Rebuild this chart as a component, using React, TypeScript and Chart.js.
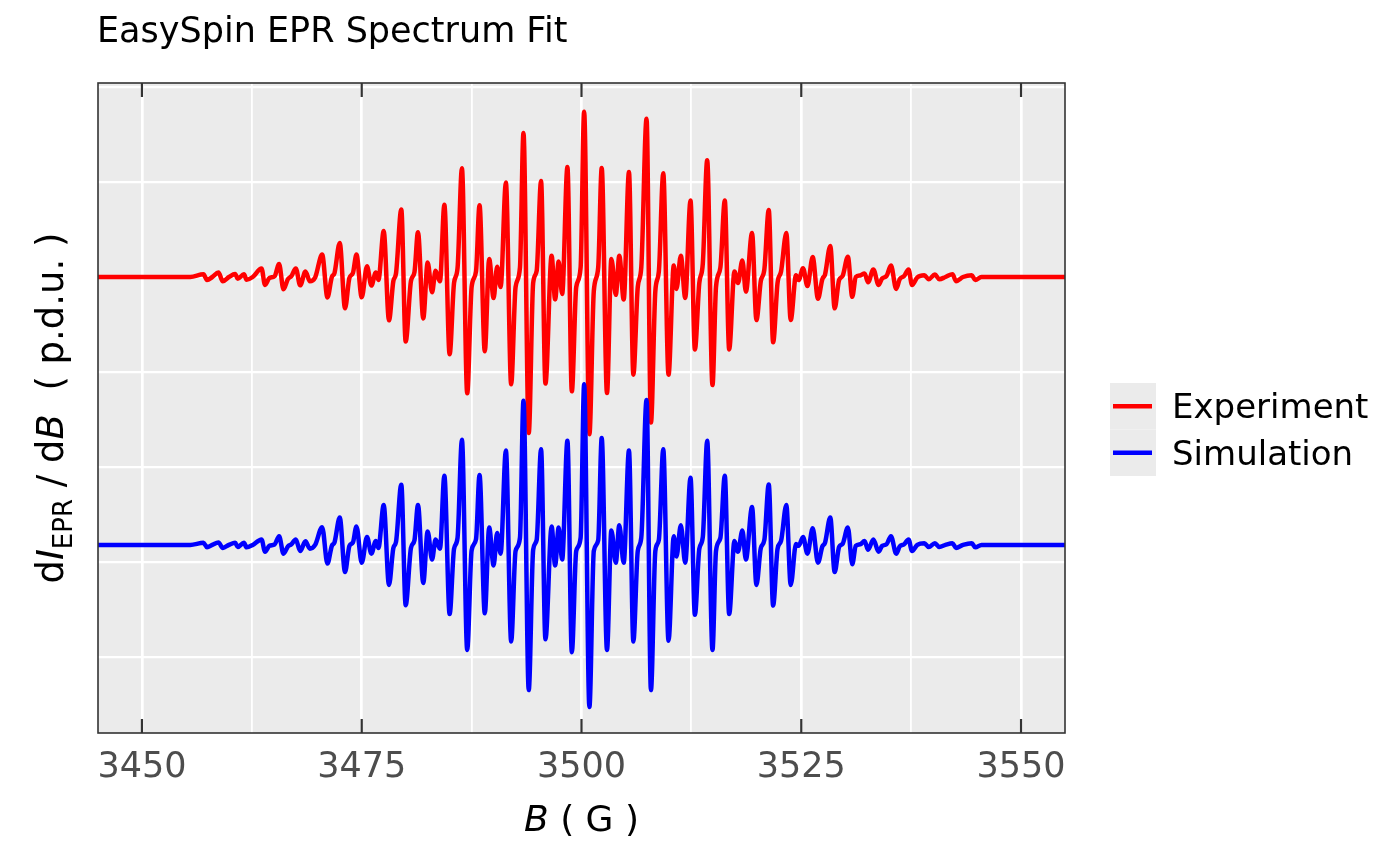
import { useEffect, useRef } from "react";
import { Chart, registerables } from "chart.js";

Chart.register(...registerables);

// magnetic field (G) of the points
const fieldG = [
  3445.0, 3455.5, 3457.0, 3457.4, 3458.0, 3458.7, 3459.2, 3459.9, 3460.6, 3460.9,
  3461.6, 3461.9, 3462.6, 3463.6, 3464.0, 3464.5, 3465.1, 3465.6, 3466.1, 3466.6,
  3467.0, 3467.5, 3468.0, 3468.6, 3469.1, 3469.7, 3470.5, 3471.1, 3471.6, 3471.9,
  3472.5, 3473.1, 3473.6, 3474.0, 3474.4, 3475.0, 3475.6, 3476.1, 3476.6, 3476.9,
  3477.5, 3478.1, 3478.6, 3478.9, 3479.5, 3480.0, 3480.6, 3481.0, 3481.4, 3482.0,
  3482.5, 3483.0, 3483.4, 3483.9, 3484.4, 3485.0, 3485.5, 3485.9, 3486.4, 3487.0,
  3487.5, 3488.0, 3488.4, 3489.0, 3489.5, 3490.0, 3490.4, 3490.8, 3491.4, 3492.0,
  3492.5, 3493.0, 3493.4, 3494.0, 3494.5, 3494.9, 3495.4, 3495.9, 3496.6, 3497.0,
  3497.4, 3497.8, 3498.4, 3498.9, 3499.4, 3499.9, 3500.3, 3500.9, 3501.4, 3501.9,
  3502.3, 3502.9, 3503.4, 3503.9, 3504.3, 3504.8, 3505.4, 3505.9, 3506.4, 3506.8,
  3507.4, 3507.9, 3508.4, 3508.8, 3509.3, 3509.9, 3510.5, 3510.8, 3511.3, 3511.8,
  3512.4, 3512.9, 3513.4, 3513.8, 3514.3, 3514.9, 3515.3, 3515.8, 3516.3, 3516.8,
  3517.4, 3517.8, 3518.3, 3518.7, 3519.4, 3519.9, 3520.4, 3520.8, 3521.3, 3521.8,
  3522.3, 3522.7, 3523.3, 3523.8, 3524.4, 3524.7, 3525.2, 3525.7, 3526.3, 3526.9,
  3527.4, 3527.7, 3528.3, 3528.8, 3529.3, 3529.7, 3530.3, 3530.8, 3531.2, 3531.7,
  3532.2, 3532.6, 3533.2, 3533.8, 3534.2, 3534.7, 3535.2, 3535.8, 3536.2, 3536.7,
  3537.2, 3537.6, 3538.2, 3539.0, 3539.5, 3540.2, 3540.7, 3541.4, 3542.2, 3542.6,
  3543.4, 3544.4, 3544.8, 3545.5, 3555.0,
];

// dI/dB of the measured spectrum, around its own baseline
const experiment = [
  0, 0, 1.4, -1.6, 0, 2.3, -2.3, 0, 1.6, -0.9,
  1.4, -1.4, 0, 4.5, -4.2, -0.5, 0.5, 6.8, -6.5, -1.1,
  0.5, 4.5, -4.4, 2.9, -2.3, -0.3, 11.8, -10.8, 0, 2.1,
  17.9, -16.5, -0.5, 2.1, 11.8, -10.7, 5.6, -4.5, 2.3, -1.6,
  24.2, -22.8, -2.1, 1.9, 35.5, -34.0, -2.1, 2.6, 23.6, -21.8,
  7.6, -8.0, 3.3, -2.3, 38.0, -40.7, -3.2, 4.7, 57.2, -61.2,
  -5.3, 2.9, 37.8, -39.1, 9.5, -11.1, 5.4, -5.3, 49.7, -56.5,
  -5.3, 5.0, 75.8, -82.1, -3.2, 3.2, 50.5, -56.1, 11.2, -11.8,
  8.1, -8.9, 57.9, -60.2, -5.3, 5.0, 87.0, -82.7, -7.4, 5.0,
  57.3, -61.1, 9.5, -9.4, 11.2, -11.8, 55.2, -51.4, -5.3, 5.0,
  83.3, -76.6, -7.4, 2.9, 54.6, -51.4, 6.0, -6.3, 11.2, -11.0,
  40.3, -38.1, -3.2, 7.1, 61.4, -56.9, -5.3, 5.0, 40.3, -38.1,
  2.9, -3.2, 8.7, -7.7, 23.1, -22.7, -2.1, 3.9, 35.3, -34.4,
  -3.2, 2.9, 23.1, -22.7, 0.9, -1.6, 4.6, -4.8, 10.5, -11.4,
  -1.1, 1.3, 16.3, -16.5, -1.6, 0.5, 10.7, -10.4, 0, 0.8,
  1.9, -2.8, 3.9, -4.2, -0.7, 0.5, 6.0, -6.3, -1.1, 0.5,
  3.9, -4.2, -0.2, 0.9, -1.2, 1.3, -1.2, 0, 1.5, -2.2,
  0, 0.9, -1.6, 0, 0,
];

// fitted spectrum, around its own baseline
const simulation = [
  0, 0, 1.1, -1.3, 0, 1.3, -1.6, 0, 1.1, -1.1,
  1.1, -1.3, 0, 2.9, -3.6, -0.5, 0.3, 4.6, -4.6, -0.8,
  0.3, 2.9, -3.2, 1.9, -2.0, 0, 9.3, -9.8, -0.5, 1.3,
  14.4, -14.3, -0.5, 1.3, 9.7, -9.4, 4.2, -4.6, 2.1, -1.6,
  21.0, -21.1, -1.6, 1.6, 31.7, -31.7, -1.6, 2.5, 21.0, -20.0,
  7.1, -7.7, 2.9, -2.0, 36.4, -36.4, -2.1, 3.7, 55.3, -55.3,
  -2.9, 2.9, 36.8, -36.0, 9.1, -10.8, 6.2, -4.6, 49.7, -50.8,
  -3.2, 3.7, 75.9, -76.4, -2.6, 2.6, 50.3, -49.7, 9.7, -10.8,
  9.1, -7.7, 54.8, -56.5, -3.2, 3.7, 84.5, -85.3, -3.2, 2.4,
  56.3, -55.3, 7.6, -9.4, 10.3, -9.4, 49.7, -50.8, -3.2, 3.7,
  76.3, -76.4, -3.2, 2.6, 50.3, -50.4, 4.6, -6.1, 10.3, -9.4,
  35.3, -36.8, -2.1, 4.2, 54.8, -55.3, -3.2, 3.7, 36.4, -36.4,
  2.1, -3.6, 7.6, -7.7, 19.9, -21.1, -1.6, 2.6, 31.8, -31.9,
  -2.1, 2.1, 21.0, -21.1, 0.5, -0.5, 4.2, -4.6, 8.7, -9.4,
  -0.8, 1.1, 14.4, -14.3, -1.1, 0.5, 9.1, -10.2, -0.5, 0.3,
  2.1, -2.6, 2.9, -3.6, -0.5, 0.3, 4.6, -4.6, -0.8, 0.3,
  2.9, -3.2, 0, 0.9, -1.1, 0.9, -1.1, 0, 0.9, -1.6,
  0, 0.9, -1.3, 0, 0,
];

// vertical offsets of the two traces
const experimentOffset = 100;
const simulationOffset = -41;

const xTicks = [3450, 3475, 3500, 3525, 3550];
const seriesNames = ["Experiment", "Simulation"];
const seriesColors = ["#FF0000", "#0000FF"];
const title = "EasySpin EPR Spectrum Fit";

const FONT = "'DejaVu Sans', sans-serif";

type Run = [string, string, number][];

const decorations = {
  id: "decorations",
  beforeDraw(chart: any) {
    const { ctx, chartArea: a } = chart;
    ctx.save();
    ctx.fillStyle = "#FFFFFF";
    ctx.fillRect(0, 0, chart.width, chart.height);
    ctx.fillStyle = "#EBEBEB";
    ctx.fillRect(a.left, a.top, a.right - a.left, a.bottom - a.top);
    ctx.restore();
  },
  afterDraw(chart: any) {
    const { ctx, chartArea: a } = chart;
    const xs = chart.scales.x;
    ctx.save();

    // panel border
    ctx.strokeStyle = "#333333";
    ctx.lineWidth = 1.6;
    ctx.strokeRect(a.left, a.top, a.right - a.left, a.bottom - a.top);

    // inward ticks top and bottom, and labels
    ctx.lineWidth = 2.2;
    ctx.fillStyle = "#4D4D4D";
    ctx.font = `35px ${FONT}`;
    ctx.textAlign = "center";
    ctx.textBaseline = "alphabetic";
    xTicks.forEach((t) => {
      const px = xs.getPixelForValue(t);
      ctx.beginPath();
      ctx.moveTo(px, a.bottom);
      ctx.lineTo(px, a.bottom - 14);
      ctx.moveTo(px, a.top);
      ctx.lineTo(px, a.top + 14);
      ctx.stroke();
      ctx.fillText(String(t), px, a.bottom + 44);
    });

    // title
    ctx.fillStyle = "#000000";
    ctx.textAlign = "left";
    ctx.font = `35px ${FONT}`;
    ctx.fillText(title, a.left - 1, 42);

    const drawRun = (parts: Run, startX: number, y: number) => {
      let x = startX;
      parts.forEach(([txt, font, dy]) => {
        ctx.font = font;
        ctx.fillText(txt, x, y + dy);
        x += ctx.measureText(txt).width;
      });
    };
    const runWidth = (parts: Run) =>
      parts.reduce((w, [txt, font]) => {
        ctx.font = font;
        return w + ctx.measureText(txt).width;
      }, 0);

    // x axis title: B ( G )
    const xTitle: Run = [
      ["B", `italic 36px ${FONT}`, 0],
      [" ( G )", `36px ${FONT}`, 0],
    ];
    const cx = (a.left + a.right) / 2;
    drawRun(xTitle, cx - runWidth(xTitle) / 2, 831);

    // y axis title: dI_EPR / dB ( p.d.u. )
    const yTitle: Run = [
      ["d", `37px ${FONT}`, 0],
      ["I", `italic 37px ${FONT}`, 0],
      ["EPR", `26px ${FONT}`, 9],
      [" / d", `37px ${FONT}`, 0],
      ["B", `italic 37px ${FONT}`, 0],
      ["  ( p.d.u. )", `37px ${FONT}`, 0],
    ];
    ctx.save();
    ctx.translate(63, (a.top + a.bottom) / 2);
    ctx.rotate(-Math.PI / 2);
    drawRun(yTitle, -runWidth(yTitle) / 2, 0);
    ctx.restore();

    // legend
    const keyX = 1110;
    const keyTop = 383;
    const keySize = 46.5;
    seriesNames.forEach((name, i) => {
      const top = keyTop + i * keySize;
      ctx.fillStyle = "#EBEBEB";
      ctx.fillRect(keyX, top, 46, keySize);
      const my = top + keySize / 2;
      ctx.strokeStyle = seriesColors[i];
      ctx.lineWidth = 4.4;
      ctx.beginPath();
      ctx.moveTo(keyX + 3, my);
      ctx.lineTo(keyX + 42, my);
      ctx.stroke();
      ctx.fillStyle = "#000000";
      ctx.font = `34px ${FONT}`;
      ctx.textAlign = "left";
      ctx.fillText(name, 1172, my + 12);
    });

    ctx.restore();
  },
};

export default function App() {
  const canvasRef = useRef<HTMLCanvasElement>(null);

  useEffect(() => {
    const canvas = canvasRef.current;
    if (!canvas) return;

    const chart = new Chart(canvas, {
      type: "line",
      data: {
        datasets: [
          {
            label: seriesNames[0],
            data: fieldG.map((b, i) => ({ x: b, y: experiment[i] + experimentOffset })),
            borderColor: seriesColors[0],
            borderWidth: 4.5,
            pointRadius: 0,
            cubicInterpolationMode: "monotone",
            order: 1,
          },
          {
            label: seriesNames[1],
            data: fieldG.map((b, i) => ({ x: b, y: simulation[i] + simulationOffset })),
            borderColor: seriesColors[1],
            borderWidth: 4.5,
            pointRadius: 0,
            cubicInterpolationMode: "monotone",
            order: 0,
          },
        ],
      },
      options: {
        responsive: false,
        animation: false,
        devicePixelRatio: 1,
        layout: { padding: { left: 98, right: 335, top: 83, bottom: 133 } },
        plugins: {
          legend: { display: false },
          title: { display: false },
          tooltip: { enabled: false },
        },
        scales: {
          x: {
            type: "linear",
            min: 3445,
            max: 3555,
            ticks: { display: false, stepSize: 12.5, includeBounds: false },
            border: { display: false },
            grid: {
              drawTicks: false,
              color: (c: any) => {
                const v = c.tick?.value;
                return v >= 3450 && v <= 3550 ? "#FFFFFF" : "rgba(0,0,0,0)";
              },
              lineWidth: (c: any) => (c.tick && c.tick.value % 25 === 0 ? 2.7 : 1.8),
            },
          },
          y: {
            type: "linear",
            min: -140,
            max: 202.1,
            ticks: { display: false, stepSize: 50, includeBounds: false },
            border: { display: false },
            grid: {
              drawTicks: false,
              color: (c: any) => {
                const v = c.tick?.value;
                return v >= -100 && v <= 200 ? "#FFFFFF" : "rgba(0,0,0,0)";
              },
              lineWidth: 2.3,
            },
          },
        },
      } as any,
      plugins: [decorations],
    });

    return () => chart.destroy();
  }, []);

  return (
    <div style={{ position: "fixed", left: 0, top: 0, width: 1400, height: 866, background: "#FFFFFF" }}>
      <canvas ref={canvasRef} width={1400} height={866} />
    </div>
  );
}
